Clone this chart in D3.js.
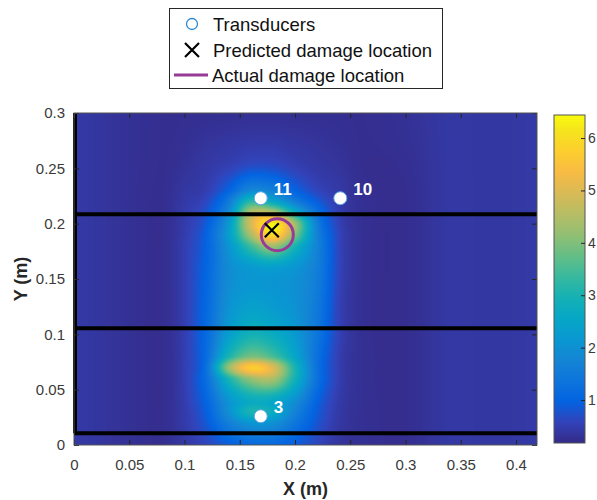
<!DOCTYPE html>
<html>
<head>
<meta charset="utf-8">
<script src="https://cdn.jsdelivr.net/npm/d3@7/dist/d3.min.js"></script>
<style>
  html, body { margin: 0; padding: 0; background: #fff; }
  svg { display: block; font-family: "Liberation Sans", Arial, Helvetica, sans-serif; }
</style>
</head>
<body>
<div id="chart"></div>
<script>
// grid of damage index values (x columns, y rows top -> bottom)
const gridX = [0, 0.04, 0.08, 0.10, 0.12, 0.14, 0.16, 0.18, 0.20, 0.22, 0.24, 0.26, 0.30, 0.34, 0.38, 0.42];
const gridY = [0.30, 0.27, 0.25, 0.23, 0.22, 0.21, 0.20, 0.19, 0.18, 0.16, 0.13, 0.10, 0.08, 0.07, 0.06, 0.04, 0.03, 0.02, 0.00];
const intensity = [
  [0.42,0.32,0.25,0.25,0.26,0.27,0.28,0.28,0.27,0.27,0.26,0.25,0.30,0.40,0.38,0.42],
  [0.42,0.32,0.25,0.28,0.35,0.40,0.45,0.45,0.40,0.35,0.30,0.25,0.28,0.40,0.38,0.42],
  [0.42,0.32,0.25,0.32,0.42,0.55,0.75,0.72,0.55,0.42,0.35,0.25,0.26,0.40,0.38,0.42],
  [0.42,0.32,0.25,0.38,0.50,1.00,1.80,1.60,1.00,0.60,0.42,0.27,0.25,0.40,0.38,0.42],
  [0.42,0.32,0.25,0.42,0.65,1.50,3.20,2.60,1.60,0.90,0.45,0.28,0.25,0.40,0.38,0.42],
  [0.42,0.32,0.25,0.45,0.80,1.90,4.50,4.60,2.80,1.30,0.50,0.28,0.25,0.40,0.38,0.42],
  [0.42,0.32,0.25,0.45,0.90,2.20,4.90,6.30,4.30,1.60,0.55,0.28,0.25,0.40,0.38,0.42],
  [0.42,0.32,0.25,0.47,1.00,2.30,4.40,6.00,4.00,1.70,0.60,0.28,0.25,0.40,0.38,0.42],
  [0.42,0.32,0.25,0.50,1.00,2.10,3.40,4.30,3.00,1.70,0.60,0.28,0.25,0.40,0.38,0.42],
  [0.42,0.32,0.25,0.50,1.05,1.90,2.20,2.30,2.10,1.60,0.60,0.28,0.25,0.40,0.38,0.42],
  [0.42,0.32,0.25,0.50,1.10,2.00,2.30,2.20,2.00,1.50,0.55,0.28,0.25,0.40,0.38,0.42],
  [0.42,0.32,0.25,0.50,1.15,2.30,2.90,2.70,2.20,1.40,0.55,0.28,0.25,0.40,0.38,0.42],
  [0.42,0.32,0.25,0.50,1.20,3.00,3.90,3.50,2.50,1.30,0.50,0.28,0.25,0.40,0.38,0.42],
  [0.42,0.32,0.25,0.50,1.30,4.20,5.70,5.00,3.00,1.30,0.50,0.28,0.25,0.40,0.38,0.42],
  [0.42,0.32,0.25,0.50,1.25,3.00,4.20,4.40,2.90,1.30,0.50,0.28,0.25,0.40,0.38,0.42],
  [0.42,0.32,0.25,0.48,1.05,2.10,2.70,2.60,2.00,1.00,0.45,0.28,0.25,0.40,0.38,0.42],
  [0.42,0.32,0.25,0.46,0.95,2.00,3.00,2.70,1.70,0.90,0.42,0.28,0.25,0.40,0.38,0.42],
  [0.42,0.32,0.25,0.45,0.85,1.60,2.10,2.00,1.40,0.80,0.40,0.28,0.25,0.40,0.38,0.42],
  [0.42,0.32,0.25,0.40,0.60,0.90,1.10,1.10,0.90,0.60,0.35,0.28,0.25,0.40,0.38,0.42]
];

const transducers = [
  { id: '11', x: 0.169, y: 0.223 },
  { id: '10', x: 0.241, y: 0.223 },
  { id: '3',  x: 0.169, y: 0.026 }
];
const predicted = { x: 0.179, y: 0.194 };
const actual = { x: 0.184, y: 0.190, r: 0.0145 };
const stiffenerY = [0.0106, 0.1055, 0.2086];

const xTicks = [0, 0.05, 0.1, 0.15, 0.2, 0.25, 0.3, 0.35, 0.4];
const yTicks = [0, 0.05, 0.1, 0.15, 0.2, 0.25, 0.3];
const cbTicks = [1, 2, 3, 4, 5, 6];
const cbRange = [0.18, 6.44];

const legendItems = ['Transducers', 'Predicted damage location', 'Actual damage location'];

// parula colormap
const parulaStops = ['#352a87','#3243ba','#0363e1','#0d75dc','#1485d4','#0998d1','#06a7c6','#15b1b4',
  '#38b99e','#65be86','#92bf73','#b7bd64','#d9ba56','#f8bb44','#fcce2e','#f5e41d','#f9fb0e'];
const parulaPos = parulaStops.map((_, i) => i === parulaStops.length - 1 ? 1 : i * 4 / 63);
const parula = d3.scaleLinear().domain(parulaPos).range(parulaStops).interpolate(d3.interpolateRgb).clamp(true);
const color = v => parula((v - cbRange[0]) / (cbRange[1] - cbRange[0]));

const width = 597, height = 500;
const svg = d3.select('#chart').append('svg').attr('width', width).attr('height', height);

const x = d3.scaleLinear().domain([0, 0.419]).range([74, 537]);
const y = d3.scaleLinear().domain([0, 0.3]).range([445, 113]);

// heatmap image, shaded smoothly between grid nodes (cubic, like shading interp)
const colIdx = d3.scaleLinear().domain(gridX).range(d3.range(gridX.length)).clamp(true);
const rowIdx = d3.scaleLinear().domain(gridY).range(d3.range(gridY.length)).clamp(true);
const cubic = (p0, p1, p2, p3, t) =>
  p1 + 0.5 * t * (p2 - p0 + t * (2 * p0 - 5 * p1 + 4 * p2 - p3 + t * (3 * (p1 - p2) + p3 - p0)));
const at = (r, c) => intensity[Math.max(0, Math.min(gridY.length - 1, r))][Math.max(0, Math.min(gridX.length - 1, c))];
const sample = (fr, fc) => {
  const r = Math.min(Math.floor(fr), gridY.length - 2), tr = fr - r;
  const c = Math.min(Math.floor(fc), gridX.length - 2), tc = fc - c;
  const rows = [-1, 0, 1, 2].map(dr =>
    cubic(at(r + dr, c - 1), at(r + dr, c), at(r + dr, c + 1), at(r + dr, c + 2), tc));
  return cubic(rows[0], rows[1], rows[2], rows[3], tr);
};
const pw = Math.round(x.range()[1] - x.range()[0]);
const ph = Math.round(y.range()[0] - y.range()[1]);
const canvas = document.createElement('canvas');
canvas.width = pw; canvas.height = ph;
const ctx = canvas.getContext('2d');
const img = ctx.createImageData(pw, ph);
for (let j = 0; j < ph; j++) {
  const fr = rowIdx(y.invert(y.range()[1] + j + 0.5));
  for (let i = 0; i < pw; i++) {
    const fc = colIdx(x.invert(x.range()[0] + i + 0.5));
    const c = d3.rgb(color(sample(fr, fc)));
    const k = (j * pw + i) * 4;
    img.data[k] = c.r; img.data[k + 1] = c.g; img.data[k + 2] = c.b; img.data[k + 3] = 255;
  }
}
ctx.putImageData(img, 0, 0);
svg.append('image')
  .attr('x', x.range()[0]).attr('y', y.range()[1])
  .attr('width', pw).attr('height', ph)
  .attr('preserveAspectRatio', 'none')
  .attr('href', canvas.toDataURL());

// stiffener lines
svg.append('g').selectAll('line')
  .data(stiffenerY)
  .join('line')
  .attr('x1', x(0)).attr('x2', x.range()[1])
  .attr('y1', d => y(d)).attr('y2', d => y(d))
  .attr('stroke', '#000').attr('stroke-width', 4);
svg.append('line')
  .attr('x1', x(0) + 1).attr('x2', x(0) + 1)
  .attr('y1', y(stiffenerY[0])).attr('y2', y(0.3))
  .attr('stroke', '#000').attr('stroke-width', 4);

// axes
const axisColor = '#262626';
const styleAxis = g => {
  g.select('.domain').remove();
  g.selectAll('.tick line').attr('stroke', axisColor);
  g.selectAll('.tick text').attr('fill', '#3a3a3a').attr('font-size', 15);
};
svg.append('g').attr('transform', `translate(0,${y(0)})`)
  .call(d3.axisBottom(x).tickValues(xTicks).tickFormat(d => String(d)).tickSize(-5).tickPadding(14))
  .call(styleAxis);
svg.append('g').attr('transform', `translate(0,${y(0.3)})`)
  .call(d3.axisTop(x).tickValues(xTicks).tickFormat('').tickSize(-5))
  .call(styleAxis);
svg.append('g').attr('transform', `translate(${x(0)},0)`)
  .call(d3.axisLeft(y).tickValues(yTicks).tickFormat(d => String(d)).tickSize(-5).tickPadding(9))
  .call(styleAxis);
svg.append('g').attr('transform', `translate(${x.range()[1]},0)`)
  .call(d3.axisRight(y).tickValues(yTicks).tickFormat('').tickSize(-5))
  .call(styleAxis);
svg.append('rect')
  .attr('x', x(0)).attr('y', y(0.3))
  .attr('width', pw).attr('height', ph)
  .attr('fill', 'none').attr('stroke', '#555').attr('stroke-width', 1);

svg.append('text')
  .attr('x', (x.range()[0] + x.range()[1]) / 2).attr('y', 495)
  .attr('text-anchor', 'middle').attr('font-size', 18).attr('font-weight', 'bold')
  .attr('fill', '#262626').text('X (m)');
svg.append('text')
  .attr('transform', `translate(27,${(y.range()[0] + y.range()[1]) / 2}) rotate(-90)`)
  .attr('text-anchor', 'middle').attr('font-size', 18).attr('font-weight', 'bold')
  .attr('fill', '#262626').text('Y (m)');

// actual damage circle
svg.append('circle')
  .attr('cx', x(actual.x)).attr('cy', y(actual.y))
  .attr('r', x(actual.r) - x(0))
  .attr('fill', 'none').attr('stroke', '#963c96').attr('stroke-width', 3);

// predicted damage cross
const cross = (g, cx, cy, s) => {
  g.append('path')
    .attr('d', `M${cx - s},${cy - s}L${cx + s},${cy + s}M${cx - s},${cy + s}L${cx + s},${cy - s}`)
    .attr('stroke', '#000').attr('stroke-width', 2.2).attr('fill', 'none');
};
cross(svg, x(predicted.x), y(predicted.y), 7);

// transducers
const tg = svg.append('g').selectAll('g').data(transducers).join('g')
  .attr('transform', d => `translate(${x(d.x)},${y(d.y)})`);
tg.append('circle').attr('r', 6.5).attr('fill', '#fff').attr('stroke', '#5aa2e6').attr('stroke-width', 1);
tg.append('text').attr('x', 13).attr('y', -3)
  .attr('font-size', 17).attr('font-weight', 'bold').attr('fill', '#fff')
  .text(d => d.id);

// colorbar
const cb = d3.scaleLinear().domain(cbRange).range([443, 115]);
svg.append('g').selectAll('rect')
  .data(d3.range(115, 443))
  .join('rect')
  .attr('x', 554).attr('y', d => d).attr('width', 31).attr('height', 1)
  .attr('fill', d => color(cb.invert(d + 0.5)));
svg.append('rect').attr('x', 554).attr('y', 115).attr('width', 31).attr('height', 328)
  .attr('fill', 'none').attr('stroke', '#555').attr('stroke-width', 1);
svg.append('g').attr('transform', 'translate(585,0)')
  .call(d3.axisRight(cb).tickValues(cbTicks).tickFormat(d3.format('d')).tickSize(-4).tickPadding(3))
  .call(styleAxis)
  .call(g => g.selectAll('.tick text').attr('font-size', 14));

// legend
const lg = svg.append('g');
lg.append('rect').attr('x', 169.5).attr('y', 8.5).attr('width', 273).attr('height', 80)
  .attr('fill', '#fff').attr('stroke', axisColor).attr('stroke-width', 1);
const rowsY = [24, 50, 75];
lg.append('circle').attr('cx', 192).attr('cy', rowsY[0]).attr('r', 5.5)
  .attr('fill', 'none').attr('stroke', '#2a86d8').attr('stroke-width', 1.3);
cross(lg, 192, rowsY[1], 7);
lg.append('line').attr('x1', 174).attr('x2', 208).attr('y1', rowsY[2]).attr('y2', rowsY[2])
  .attr('stroke', '#963c96').attr('stroke-width', 3);
lg.selectAll('text').data(legendItems).join('text')
  .attr('x', (d, i) => i === 2 ? 212 : 213)
  .attr('y', (d, i) => rowsY[i] + 6.5)
  .attr('font-size', 18.5).attr('fill', '#111')
  .text(d => d);
</script>
</body>
</html>
